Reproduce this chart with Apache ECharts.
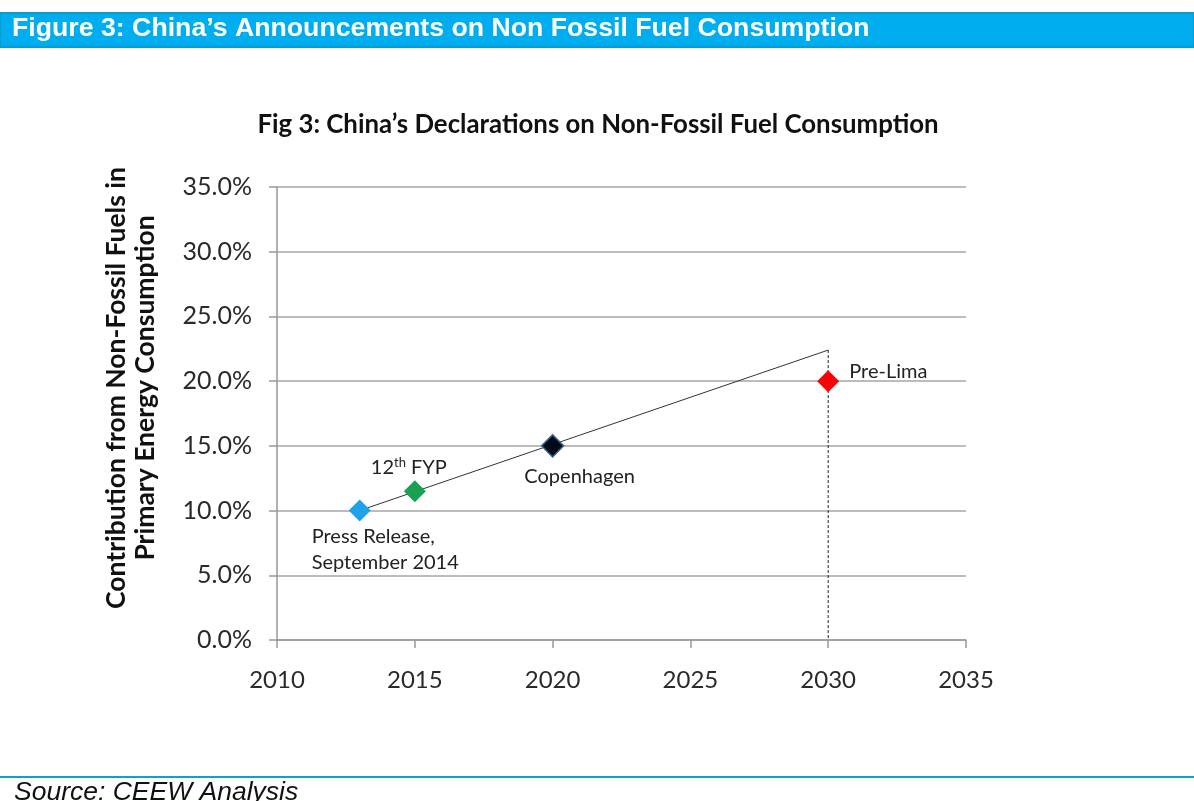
<!DOCTYPE html>
<html>
<head>
<meta charset="utf-8">
<script src="https://cdn.jsdelivr.net/npm/echarts@6/dist/echarts.min.js"></script>
<style>
html,body{margin:0;padding:0;background:#fff;}
#chart{width:1194px;height:801px;}
</style>
</head>
<body>
<div id="chart"></div>
<script>
const years = [2013, 2015, 2020, 2030];
const shares = [10.0, 11.5, 15.0, 20.0];
const pointNames = ['Press Release,\nSeptember 2014', '12th FYP', 'Copenhagen', 'Pre-Lima'];
const pointColors = ['#1EA3EA', '#17A154', '#050A18', '#F50505'];
const trendYears = [2013, 2030];
const trendShares = [10.0, 22.4];
const xTicks = [2010, 2015, 2020, 2025, 2030, 2035];
const yTicks = [0, 5, 10, 15, 20, 25, 30, 35];
const yAxisTitle = 'Contribution from Non-Fossil Fuels in\nPrimary Energy Consumption';

const chart = echarts.init(document.getElementById('chart'));
const F = 'Lato, "Open Sans", sans-serif';
const LS = 20;

const labelCfg = [
  {position: 'bottom', distance: 2, align: 'left', offset: [-48, 0], lineHeight: 26},
  {position: 'top', distance: 2, offset: [-6, 0], formatter: '{a|12}{s|th}{a| FYP}'},
  {position: 'bottom', distance: 9, offset: [27, 0]},
  {position: 'right', distance: 10, offset: [0, -10]}
];

const pts = years.map((y, i) => ({
  value: [y, shares[i]],
  name: pointNames[i],
  itemStyle: {color: pointColors[i], opacity: 1, borderColor: i === 2 ? '#3B5C8C' : pointColors[i], borderWidth: i === 2 ? 1.5 : 0},
  label: Object.assign({show: true, formatter: '{b}', color: '#222', fontFamily: F, fontSize: LS,
    rich: {a: {fontSize: LS, fontFamily: F, color: '#222'}, s: {fontSize: 13, fontFamily: F, color: '#222', verticalAlign: 'top', padding: [0,0,9,0]}}}, labelCfg[i])
}));

chart.setOption({
  backgroundColor: '#fff',
  animation: false,
  title: {
    text: 'Fig 3: China\u2019s Declarations on Non-Fossil Fuel Consumption',
    left: 593, top: 107, textAlign: 'center',
    textStyle: {fontFamily: F, fontWeight: 'bold', fontSize: 25.8, color: '#111'}
  },
  graphic: [
    {type: 'rect', shape: {x: 0, y: 13, width: 1194, height: 34}, style: {fill: '#00AEEF', stroke: '#0A9ACF', lineWidth: 2}},
    {type: 'text', left: 12, top: 15, style: {text: 'Figure 3: China\u2019s Announcements on Non Fossil Fuel Consumption', fill: '#fff', font: 'bold 26.7px "Liberation Sans", Arial, sans-serif'}},
    {type: 'rect', shape: {x: 0, y: 776, width: 1194, height: 2}, style: {fill: '#0AA0D8'}},
    {type: 'text', left: 14, top: 779, style: {text: 'Source: CEEW Analysis', fill: '#111', font: 'italic 26.5px "Liberation Sans", Arial, sans-serif'}},
    {type: 'text', x: 131, y: 388, rotation: Math.PI / 2,
      style: {text: yAxisTitle, align: 'center', verticalAlign: 'middle', fill: '#111', lineHeight: 29,
        font: 'bold 26.5px Lato, "Open Sans", sans-serif'}}
  ],
  grid: {left: 277, right: 228, top: 187, bottom: 161},
  xAxis: {
    type: 'value', min: 2010, max: 2035, interval: 5,
    axisLine: {show: true, lineStyle: {color: '#999', width: 1.5}},
    axisTick: {show: true, length: 8, lineStyle: {color: '#999', width: 1.5}},
    splitLine: {show: false},
    axisLabel: {margin: 28, color: '#2a2a2a', fontFamily: F, fontSize: 24, formatter: v => String(v)}
  },
  yAxis: {
    type: 'value', min: 0, max: 35, interval: 5,
    axisLine: {show: true, lineStyle: {color: '#999', width: 1.5}},
    axisTick: {show: true, inside: false, length: 8, lineStyle: {color: '#999', width: 1.5}},
    splitLine: {show: true, lineStyle: {color: '#A6A6A6', width: 1.5}},
    axisLabel: {margin: 25, color: '#2a2a2a', fontFamily: F, fontSize: 25, formatter: v => v.toFixed(1) + '%'}
  },
  series: [
    {
      type: 'line', data: trendYears.map((y, i) => [y, trendShares[i]]),
      symbol: 'none', lineStyle: {color: '#333', width: 1}, z: 2
    },
    {
      type: 'line', data: [[trendYears[1], trendShares[1]], [trendYears[1], 0]],
      symbol: 'none', lineStyle: {color: '#222', width: 1, type: [3, 2]}, z: 2
    },
    {
      type: 'scatter', symbol: 'diamond', symbolSize: 22, data: pts, z: 5
    }
  ]
});
</script>
</body>
</html>
